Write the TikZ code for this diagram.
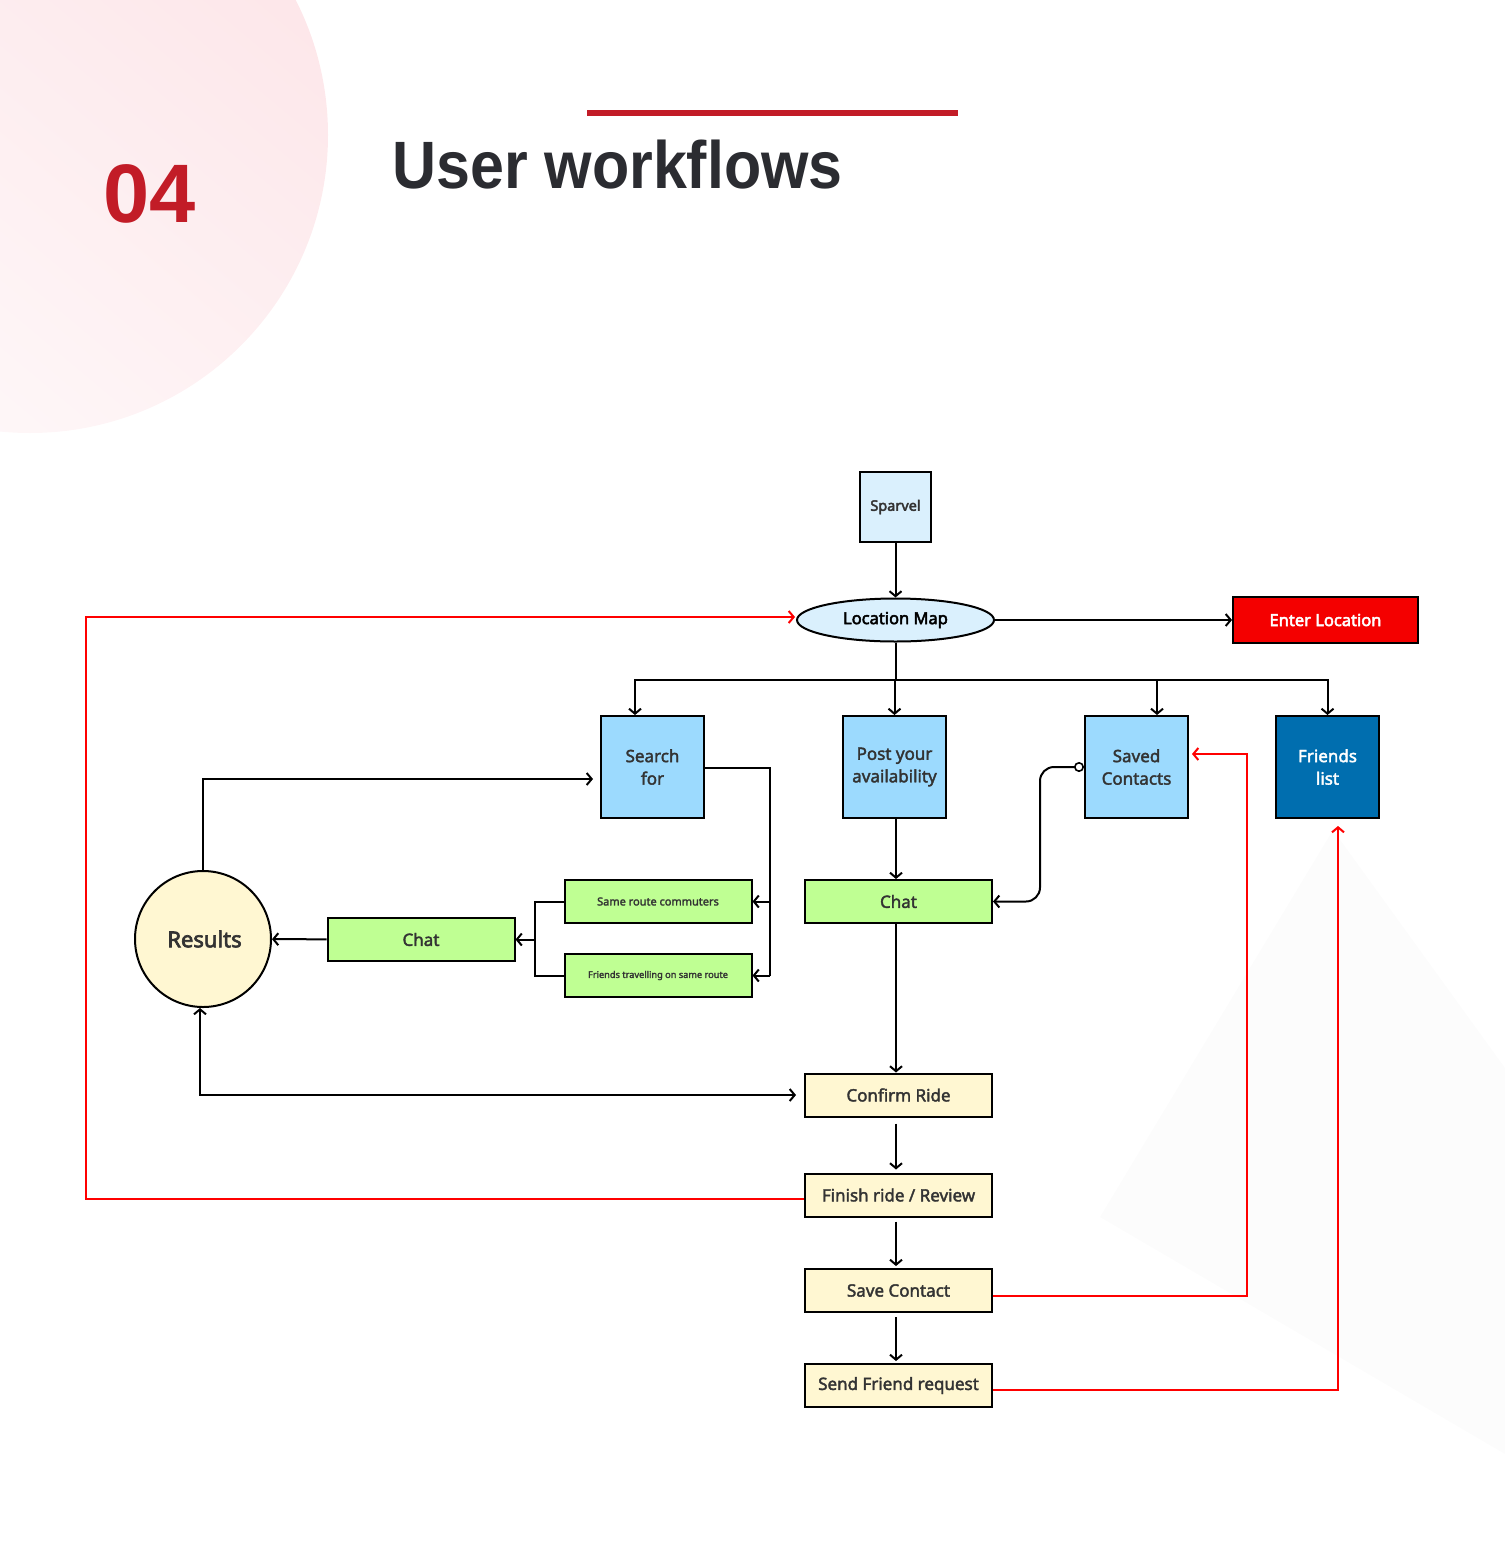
\documentclass[tikz,border=0pt]{standalone}
\usepackage{fontspec}
\setmainfont{Noto Sans}
\newfontfamily\medfont{Noto Sans}[AutoFakeBold=2.2]
\newfontfamily\boldfont{Noto Sans}[AutoFakeBold=3]
\newfontfamily\headfont{Liberation Sans}
\usetikzlibrary{arrows.meta,shapes.geometric}

\definecolor{titlered}{HTML}{C21C27}
\definecolor{titlegray}{HTML}{2B2C31}
\definecolor{textgray}{HTML}{333333}
\definecolor{pinkdeep}{HTML}{FDE6E9}
\definecolor{pinklight}{HTML}{FEF8F9}
\definecolor{paleblue}{HTML}{DAF0FD}
\definecolor{skyblue}{HTML}{9CDAFE}
\definecolor{navyblue}{HTML}{006EAF}
\definecolor{alertred}{HTML}{F40000}
\definecolor{limegreen}{HTML}{BFFF93}
\definecolor{cream}{HTML}{FFF7D2}

\tikzset{barb/.tip={Straight Barb[length=5pt,width=12pt,line width=2pt]}}

\begin{document}
\begin{tikzpicture}[x=1pt,y=-1pt,
    box/.style = {draw=black,line width=2pt,inner sep=0pt,align=center,text=textgray,font=\medfont\bfseries\fontsize{17}{22.5}\selectfont},
    bluebox/.style = {box,fill=skyblue,minimum width=103pt,minimum height=102pt},
    greenbox/.style = {box,fill=limegreen,minimum width=187pt,minimum height=43pt},
    creambox/.style = {box,fill=cream,minimum width=187pt,minimum height=43pt},
    flow/.style = {line width=2pt,-barb},
    back/.style = {flow,draw=red}]
    \useasboundingbox (0,0) rectangle (1505,1558);

    % background
    \shade[top color=pinkdeep,bottom color=pinklight,shading angle=-40] (30,135) circle (298pt);
    \fill[black!1] (1333,830) -- (1505,1068) -- (1505,1454) -- (1100,1217) -- cycle;

    % heading
    \node[anchor=base west,inner sep=0pt,text=titlered,font=\headfont\bfseries\fontsize{83}{83}\selectfont] (num) at (103,222) {04};
    \node[anchor=base west,inner sep=0pt,text=titlegray,font=\headfont\bfseries\fontsize{67}{67}\selectfont] (title) at (392,188) {\scalebox{0.91}[1]{User workflows}};
    \fill[titlered] (587,110) rectangle (958,116);

    % nodes
    \node[box,fill=paleblue,minimum width=71pt,minimum height=70pt,font=\boldfont\bfseries\fontsize{14.5}{18}\selectfont] (sparvel) at (895.5,507) {Sparvel};
    \node[ellipse,draw=black,line width=2pt,fill=paleblue,inner sep=0pt,minimum width=197pt,minimum height=43pt,text=black,font=\boldfont\bfseries\fontsize{16.5}{20}\selectfont] (map) at (895.5,620) {Location Map};
    \node[box,fill=alertred,text=white,minimum width=185pt,minimum height=46pt,font=\boldfont\bfseries\fontsize{16.5}{20}\selectfont] (enter) at (1325.5,620) {Enter Location};

    \node[bluebox] (search) at (652.5,767) {Search\\for};
    \node[bluebox] (post) at (894.5,767) {Post your\\availability};
    \node[bluebox] (saved) at (1136.5,767) {Saved\\Contacts};
    \node[bluebox,fill=navyblue,text=white] (friends) at (1327.5,767) {Friends\\list};

    \node[greenbox] (chat) at (898.5,901.5) {Chat};
    \node[greenbox,font=\medfont\bfseries\fontsize{11}{13}\selectfont] (same) at (658,901.5) {Same route commuters};
    \node[greenbox,font=\medfont\bfseries\fontsize{9.2}{11}\selectfont] (friendsroute) at (658,975.5) {Friends travelling on same route};
    \node[greenbox] (chatleft) at (421,939.5) {Chat};
    \node[circle,draw=black,line width=2pt,fill=cream,minimum size=136pt,inner sep=0pt,text=textgray,font=\boldfont\bfseries\fontsize{22}{26}\selectfont] (results) at (203,939) {\hspace*{3pt}Results};

    \node[creambox] (confirm) at (898.5,1095) {Confirm Ride};
    \node[creambox] (finish) at (898.5,1195) {Finish ride / Review};
    \node[creambox] (savecontact) at (898.5,1290.5) {Save Contact};
    \node[creambox] (send) at (898.5,1385.5) {Send Friend request};

    % connectors
    \coordinate (split) at (895.5,680);
    \coordinate (spine) at (896,0);
    \coordinate (bus) at (770,975.5);
    \coordinate (join) at (535,939.5);
    \coordinate (searchin) at (601,779);
    \coordinate (bend) at (1040,767);
    \coordinate (leftrail) at (86,0);
    \coordinate (mapin) at (797,617);
    \coordinate (contactrail) at (1247,0);
    \coordinate (savedin) at (1188,754);

    \draw[flow] (sparvel) -- (map);
    \draw[flow] (map.east) -- (enter.west);
    \draw[line width=2pt] (map.south) -- (split);
    \draw[flow] (split) -| ([xshift=-17.5pt]search.north);
    \draw[flow] (post.north |- split) -- (post.north);
    \draw[flow] (split) -| ([xshift=20.5pt]saved.north);
    \draw[flow] (split) -| (friends.north);

    \draw[line width=2pt] (search.east |- 0,768) -| (bus);
    \draw[flow] (same.east -| bus) -- (same.east);
    \draw[flow] (bus) -- (friendsroute.east);
    \draw[line width=2pt] (same.west) -| (join);
    \draw[line width=2pt] (friendsroute.west) -| (join);
    \draw[flow] (join) -- (chatleft.east);
    \draw[flow] (chatleft) -- (results);
    \draw[flow,shorten >=8pt] (results.north) |- (searchin);

    \draw[flow] (spine |- post.south) -- (spine |- chat.north);
    \draw[line width=2pt,rounded corners=14pt,{Circle[fill=white,length=10pt,line width=1.6pt]}-barb] (saved.west |- bend) -- (bend) |- (chat.east);
    \draw[flow] (spine |- chat.south) -- (spine |- confirm.north);
    \draw[barb-barb,line width=2pt,shorten >=8pt] ([xshift=-3pt]results.south) |- (confirm.west);

    \draw[flow,shorten <=6pt,shorten >=3pt] (spine |- confirm.south) -- (spine |- finish.north);
    \draw[flow,shorten <=4pt,shorten >=2pt] (spine |- finish.south) -- (spine |- savecontact.north);
    \draw[flow,shorten <=4pt,shorten >=2pt] (spine |- savecontact.south) -- (spine |- send.north);

    \draw[back,shorten >=2pt] ([yshift=-4pt]finish.west) -| (leftrail |- mapin) -- (mapin);
    \draw[back,shorten >=4pt] ([yshift=-5pt]savecontact.east) -| (contactrail |- savedin) -- (savedin);
    \draw[back,shorten >=7pt] ([yshift=-4pt]send.east) -| ([xshift=10.5pt]friends.south);
\end{tikzpicture}
\end{document}
